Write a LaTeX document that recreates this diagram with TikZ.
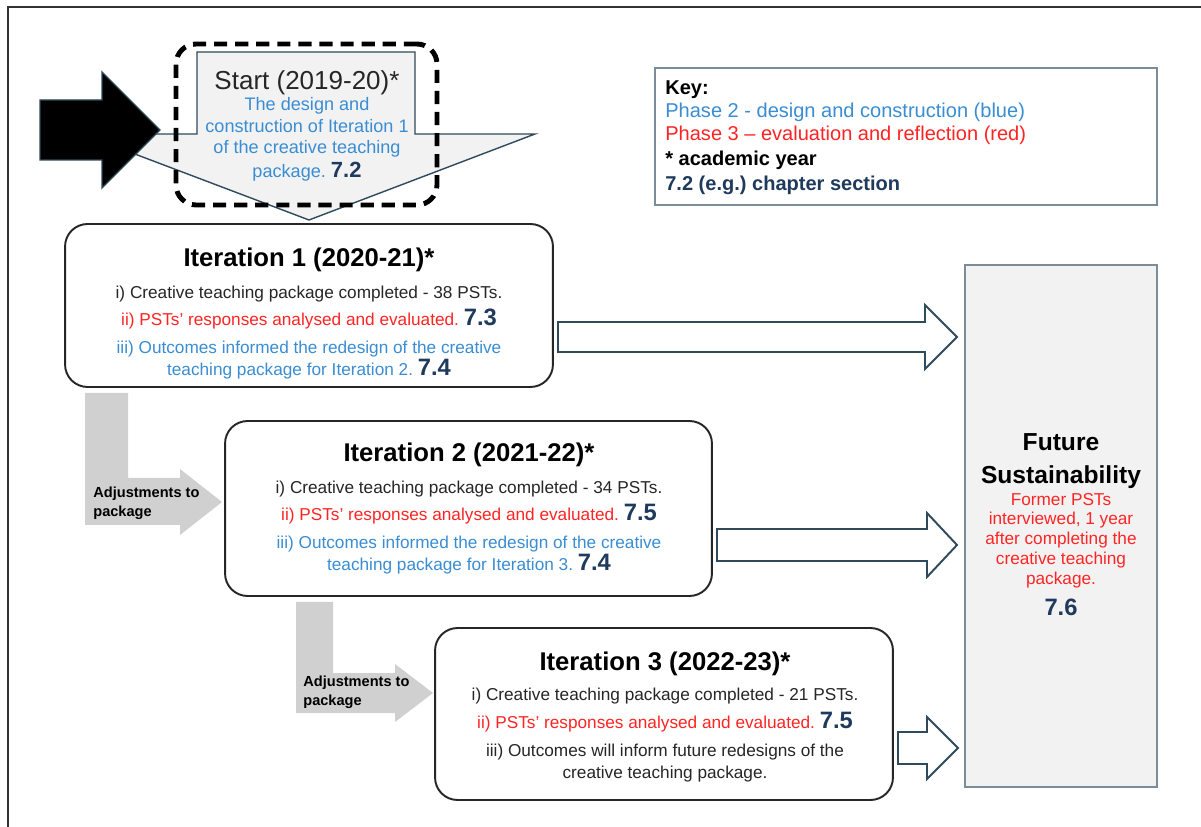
\documentclass[tikz,border=0pt]{standalone}
\usepackage{fontspec}
\setmainfont{Liberation Sans}

\definecolor{phaseblue}{HTML}{3A8DD3}
\definecolor{phasered}{HTML}{FF2424}
\definecolor{secnavy}{HTML}{1F3A5C}
\definecolor{arrowline}{HTML}{2F4A5B}
\definecolor{boxline}{HTML}{7D8C99}
\definecolor{lightfill}{HTML}{F2F2F2}
\definecolor{adjgray}{HTML}{D0D0D0}
\definecolor{bodytext}{HTML}{262626}

\newcommand{\secnum}[1]{{\fontsize{13.5}{12.5}\selectfont\bfseries\color{secnavy}#1}}
\newcommand{\itertitle}[1]{{\fontsize{14.6}{12.5}\selectfont\bfseries\color{black}#1}}

\tikzset{
  iterbox/.style={draw=black!85, line width=1.1pt, rounded corners=0.45cm, fill=white, inner sep=0pt},
  itertext/.style={anchor=north, align=center, inner sep=0pt, text=bodytext, font=\fontsize{9.8}{12.5}\selectfont},
  outarrow/.style={draw=arrowline, line width=1.1pt, fill=white, line join=miter},
  adjarrow/.style={fill=adjgray, draw=none},
  adjlabel/.style={anchor=north west, align=left, inner sep=0pt, font=\fontsize{8.3}{10.8}\selectfont\bfseries},
  sidebox/.style={draw=boxline, line width=0.9pt, inner sep=0pt},
}

\begin{document}
\frenchspacing
\begin{tikzpicture}[x=0.02cm, y=-0.02cm]
  \useasboundingbox (0,0) rectangle (1201,827);
  % outer frame
  \draw[line width=1.2pt, black!80] (8,827) -- (8,7) -- (1201,7);

  % start of the cycle
  \draw[fill=lightfill, draw=arrowline, line width=0.8pt] (197,52) -- (415,52) -- (415,134) -- (535,134) -- (309,220) -- (82,134) -- (197,134) -- cycle;
  \draw[fill=black, draw=arrowline, line width=0.8pt] (40,100) -- (102,100) -- (102,72) -- (160,130) -- (102,188) -- (102,160) -- (40,160) -- cycle;
  \node[draw, line width=2.8pt, dash pattern=on 7.5pt off 4.5pt, rounded corners=0.4cm, minimum width=5.22cm, minimum height=3.22cm] (startframe) at (306.5,124.5) {};
  \node[anchor=north, align=center, inner sep=0pt, text=phaseblue, font=\fontsize{10.3}{12.2}\selectfont] (starttext) at (307,70)
    {{\fontsize{14.8}{12.2}\selectfont\color{black!85}Start (2019-20)*}\\
     The design and\\ construction of Iteration 1\\ of the creative teaching\\[1.4pt]
     package. {\fontsize{12.5}{12.2}\selectfont\bfseries\color{secnavy}7.2}};

  % key
  \node[sidebox, fill=white, minimum width=10.04cm, minimum height=2.74cm] (key) at (906,136.5) {};
  \node[anchor=north west, align=left, inner sep=0pt, font=\fontsize{11.4}{13.2}\selectfont] (keytext) at (665,80)
    {\textbf{Key:}\\
     \textcolor{phaseblue}{Phase 2 - design and construction (blue)}\\
     \textcolor{phasered}{Phase 3 – evaluation and reflection (red)}\\[1pt]
     \textbf{* academic year}\\[1pt]
     \textbf{\color{secnavy}7.2 (e.g.) chapter section}};

  % future sustainability
  \node[sidebox, fill=lightfill, minimum width=3.84cm, minimum height=10.44cm] (future) at (1061,526) {};
  \node[anchor=north, align=center, inner sep=0pt, text=phasered, font=\fontsize{9.8}{11.3}\selectfont] (futuretext) at (1061,433)
    {{\fontsize{14}{11.3}\selectfont\bfseries\color{black}Future}\\[7.4pt]
     {\fontsize{14}{11.3}\selectfont\bfseries\color{black}Sustainability}\\[1.2pt]
     Former PSTs\\ interviewed, 1 year\\ after completing the\\ creative teaching\\ package.\\[4.9pt]
     \secnum{7.6}};

  % iteration 1
  \node[iterbox, minimum width=9.76cm, minimum height=3.26cm] (iter1) at (309,305.5) {};
  \node[itertext] (iter1text) at (309,248)
    {\itertitle{Iteration 1 (2020-21)*}\\[5.6pt]
     i) Creative teaching package completed - 38 PSTs.\\[2.8pt]
     \textcolor{phasered}{ii) PSTs’ responses analysed and evaluated.} \secnum{7.3}\\[3.4pt]
     \textcolor{phaseblue}{iii) Outcomes informed the redesign of the creative}\\
     \textcolor{phaseblue}{teaching package for Iteration 2.} \secnum{7.4}};

  % iteration 2
  \node[iterbox, minimum width=9.74cm, minimum height=3.5cm] (iter2) at (468.5,508.5) {};
  \node[itertext] (iter2text) at (469,443)
    {\itertitle{Iteration 2 (2021-22)*}\\[5.6pt]
     i) Creative teaching package completed - 34 PSTs.\\[2.8pt]
     \textcolor{phasered}{ii) PSTs’ responses analysed and evaluated.} \secnum{7.5}\\[3.4pt]
     \textcolor{phaseblue}{iii) Outcomes informed the redesign of the creative}\\
     \textcolor{phaseblue}{teaching package for Iteration 3.} \secnum{7.4}};

  % iteration 3
  \node[iterbox, minimum width=9.16cm, minimum height=3.44cm] (iter3) at (664,714) {};
  \node[itertext] (iter3text) at (665,652)
    {\itertitle{Iteration 3 (2022-23)*}\\[4.5pt]
     i) Creative teaching package completed - 21 PSTs.\\[3.5pt]
     \textcolor{phasered}{ii) PSTs’ responses analysed and evaluated.} \secnum{7.5}\\[3.4pt]
     iii) Outcomes will inform future redesigns of the\\
     creative teaching package.};

  % adjustments between iterations
  \fill[adjarrow] (85,393) -- (128,393) -- (128,478) -- (180,478) -- (180,469) -- (222,502) -- (180,535) -- (180,525) -- (85,525) -- cycle;
  \node[adjlabel] (adjust1) at (93,487) {Adjustments to\\ package};
  \fill[adjarrow] (296,602) -- (333,602) -- (333,673) -- (395,673) -- (395,664) -- (433,693) -- (395,722) -- (395,713) -- (296,713) -- cycle;
  \node[adjlabel] (adjust2) at (303,676) {Adjustments to\\ package};

  % arrows towards future sustainability
  \draw[outarrow] (558,322) -- (925,322) -- (925,305) -- (957,337) -- (925,369) -- (925,352) -- (558,352) -- cycle;
  \draw[outarrow] (717,529) -- (927,529) -- (927,513) -- (957,545) -- (927,577) -- (927,561) -- (717,561) -- cycle;
  \draw[outarrow] (898,732) -- (927,732) -- (927,717) -- (958,748) -- (927,779) -- (927,764) -- (898,764) -- cycle;
\end{tikzpicture}
\end{document}
